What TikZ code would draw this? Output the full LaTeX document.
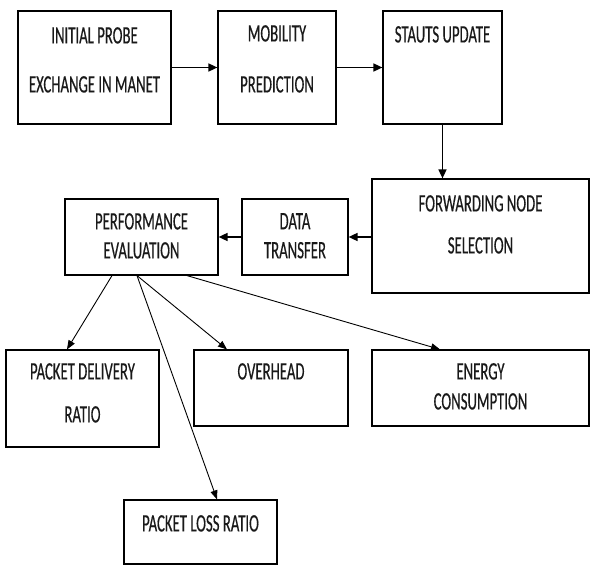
\documentclass[tikz,border=0pt]{standalone}
\usepackage{fontspec}
\newfontfamily\boxfont{Carlito}[FakeStretch=0.59, FakeBold=0.4]
\usepackage{tikz}
\usetikzlibrary{arrows.meta,positioning}

\begin{document}
\begin{tikzpicture}[
      x=1pt, y=-1pt,
      box/.style={draw, line width=1.2pt, inner sep=0pt},
      txt/.style={anchor=north, align=center, inner sep=0pt, text=black!90,
                  font=\boxfont\fontsize{25}{28}\selectfont},
      arrow/.style={-{Triangle[length=9pt, width=8pt]}, line width=1.6pt},
      thin arrow/.style={-{Triangle[length=9pt, width=7pt]}, line width=0.9pt}
    ]
    \useasboundingbox (0,0) rectangle (590,565);
    % top row
    \node[box, minimum width=153pt, minimum height=113pt] (probe) at (94.5,67.5) {};
    \node[box, minimum width=118pt, minimum height=113pt] (mob) at (277,67.5) {};
    \node[box, minimum width=119pt, minimum height=113pt] (stat) at (442.5,67.5) {};
    \node[txt] (probe-t) at (94.5,27) {INITIAL PROBE\\[21pt]EXCHANGE IN MANET};
    \node[txt] (mob-t) at (277,25) {MOBILITY\\[23pt]PREDICTION};
    \node[txt] (stat-t) at (442.5,26) {STAUTS UPDATE};
    % middle row
    \node[box, minimum width=217pt, minimum height=114pt] (fwd) at (480.5,236) {};
    \node[box, minimum width=106pt, minimum height=76pt] (data) at (295,237) {};
    \node[box, minimum width=153pt, minimum height=76pt] (perf) at (141.5,237) {};
    \node[txt] (fwd-t) at (480.5,195) {FORWARDING NODE\\[14pt]SELECTION};
    \node[txt] (data-t) at (295,213) {DATA\\[1pt]TRANSFER};
    \node[txt] (perf-t) at (141.5,213) {PERFORMANCE\\[1pt]EVALUATION};
    % metrics
    \node[box, minimum width=153pt, minimum height=97pt] (pdr) at (82.5,398.5) {};
    \node[box, minimum width=154pt, minimum height=76pt] (ovh) at (271,388) {};
    \node[box, minimum width=217pt, minimum height=76pt] (energy) at (480.5,388) {};
    \node[box, minimum width=153pt, minimum height=64pt] (plr) at (200.5,532) {};
    \node[txt] (pdr-t) at (82.5,363) {PACKET DELIVERY\\[15pt]RATIO};
    \node[txt] (ovh-t) at (271,363) {OVERHEAD};
    \node[txt] (energy-t) at (480.5,363) {ENERGY\\[2pt]CONSUMPTION};
    \node[txt] (plr-t) at (200.5,515) {PACKET LOSS RATIO};
    % flow
    \draw[arrow] (probe) -- (mob);
    \draw[arrow] (mob) -- (stat);
    \draw[arrow] (stat.south) -- (stat.south |- fwd.north);
    \draw[arrow] (fwd.west |- data) -- (data);
    \draw[arrow] (data) -- (perf);
    \draw[thin arrow] ([xshift=-29.5pt]perf.south) -- ([xshift=-15.5pt]pdr.north);
    \draw[thin arrow] ([xshift=-4.5pt]perf.south) -- ([xshift=16.5pt]plr.north);
    \draw[thin arrow] ([xshift=-4.5pt]perf.south) -- ([xshift=-44pt]ovh.north);
    \draw[thin arrow] ([xshift=45.5pt]perf.south) -- ([xshift=-40.5pt]energy.north);
  \end{tikzpicture}
\end{document}
